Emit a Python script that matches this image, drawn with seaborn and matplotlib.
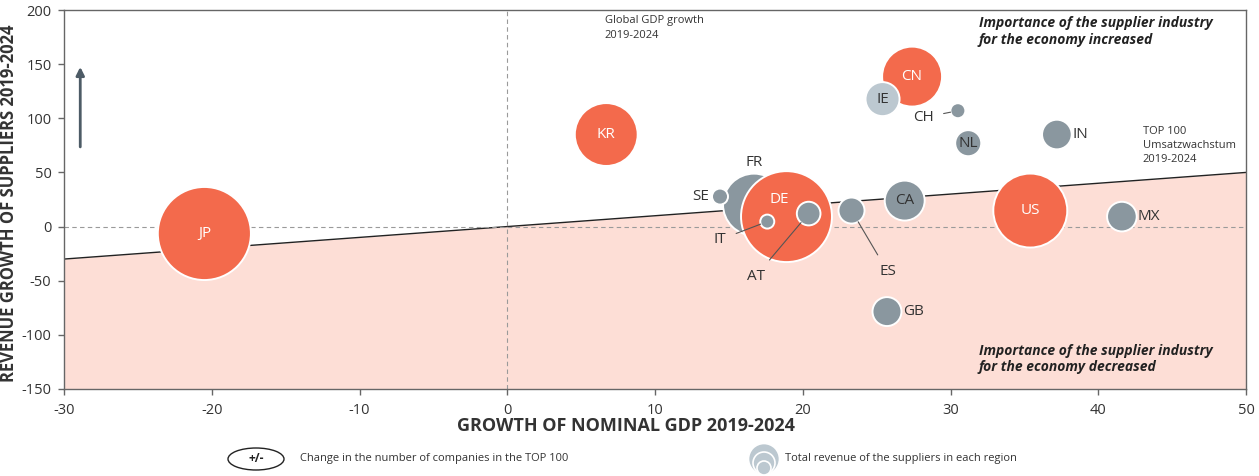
import numpy as np
import pandas as pd
import matplotlib
matplotlib.use("Agg")
import matplotlib.pyplot as plt
from matplotlib.patches import Ellipse
import seaborn as sns

# values
countries = ["JP", "KR", "CN", "IE", "CH", "NL", "IN", "FR", "SE", "DE",
             "IT", "AT", "ES", "CA", "US", "MX", "GB"]
gdp_growth = [-20.5, 6.7, 27.4, 25.4, 30.5, 31.2, 37.2, 16.7, 14.4, 18.9,
              17.6, 20.4, 23.3, 26.9, 35.4, 41.6, 25.7]
revenue_growth = [-6.4, 85, 138.5, 117.7, 107, 77, 85, 20.3, 27.7, 9.2,
                  4.6, 12, 14.8, 24, 14.8, 9.2, -78.5]
supplier_revenue = [217, 99, 90, 29, 5.6, 17, 22, 96, 6.4, 207,
                    4.9, 14, 17, 40, 137, 22, 21]
group = ["orange", "orange", "orange", "light", "gray", "gray", "gray", "gray", "gray", "orange",
         "gray", "gray", "gray", "gray", "orange", "gray", "gray"]

# TOP 100 revenue growth reference line (end points)
top100_x = [-30, 50]
top100_y = [-30, 50]

x_ticks = [-30, -20, -10, 0, 10, 20, 30, 40, 50]
y_ticks = [-150, -100, -50, 0, 50, 100, 150, 200]

ORANGE = "#F36A4C"
GRAY = "#8A979F"
LIGHT = "#BCC8D0"
PINK = "#FDDED6"
DARK = "#333333"

df = pd.DataFrame({"country": countries, "gdp": gdp_growth, "rev": revenue_growth,
                   "size": supplier_revenue, "group": group})

sns.set_theme(style="white")
plt.rcParams["font.family"] = ["Open Sans", "DejaVu Sans"]
plt.rcParams["axes.unicode_minus"] = False

fig = plt.figure(figsize=(12.59, 4.76), dpi=100)
ax = fig.add_axes([64 / 1259, 1 - 389 / 476, 1182 / 1259, 379 / 476])

ax.fill_between(top100_x, top100_y, -150, color=PINK, lw=0, zorder=0)
sns.lineplot(x=top100_x, y=top100_y, color="#222222", lw=1.0, ax=ax, zorder=1)
ax.axhline(0, color="#9a9a9a", lw=0.8, ls=(0, (4, 3)), zorder=1)
ax.axvline(0, color="#9a9a9a", lw=0.8, ls=(0, (4, 3)), zorder=1)

max_rev = max(supplier_revenue)
sns.scatterplot(data=df, x="gdp", y="rev", size="size", sizes=(0, max_rev * 20.7),
                size_norm=(0, max_rev), hue="group",
                palette={"orange": ORANGE, "gray": GRAY, "light": LIGHT},
                edgecolor="white", linewidth=1.4, legend=False, ax=ax, zorder=3)

# labels: (dx, dy) in points, colour, leader line
label_pos = {
    "JP": (0, 0, "white", False), "KR": (0, 0, "white", False),
    "CN": (0, 0, "white", False), "US": (0, 0, "white", False),
    "DE": (-5, 12, "white", False), "IE": (0, 0, DARK, False),
    "NL": (0, 0, DARK, False), "CA": (0, 0, DARK, False),
    "CH": (-25, -5, DARK, True), "IN": (17, 0, DARK, False),
    "FR": (0, 30, DARK, False), "SE": (-14, 0, DARK, False),
    "IT": (-34, -13, DARK, True), "AT": (-38, -45, DARK, True),
    "ES": (26, -44, DARK, True), "GB": (19, 0, DARK, False),
    "MX": (19, 0, DARK, False),
}
for c, x, y, s in zip(countries, gdp_growth, revenue_growth, supplier_revenue):
    dx, dy, col, leader = label_pos[c]
    r_pt = np.sqrt(s * 20.7) / 2
    props = None
    if leader:
        props = dict(arrowstyle="-", color="#555555", lw=0.8, shrinkA=5, shrinkB=r_pt)
    ax.annotate(c, xy=(x, y), xytext=(dx, dy), textcoords="offset points",
                ha="center", va="center", fontsize=11, color=col,
                arrowprops=props, zorder=4)

ax.annotate("", xy=(-28.9, 150), xytext=(-28.9, 71),
            arrowprops=dict(arrowstyle="-|>", color="#4d5b66", lw=2, mutation_scale=12))

ax.text(6.6, 195, "Global GDP growth\n2019-2024", fontsize=8, color=DARK,
        va="top", ha="left", linespacing=1.4)
ax.text(43.0, 93, "TOP 100\nUmsatzwachstum\n2019-2024", fontsize=8, color=DARK,
        va="top", ha="left", linespacing=1.4)
ax.text(31.9, 194.5, "Importance of the supplier industry\nfor the economy increased",
        fontsize=10, fontweight="bold", fontstyle="italic", color="#222222",
        va="top", ha="left", linespacing=1.25)
ax.text(31.9, -108, "Importance of the supplier industry\nfor the economy decreased",
        fontsize=10, fontweight="bold", fontstyle="italic", color="#222222",
        va="top", ha="left", linespacing=1.25)

ax.set_xlim(-30, 50)
ax.set_ylim(-150, 200)
ax.set_xticks(x_ticks)
ax.set_yticks(y_ticks)
ax.tick_params(axis="both", labelsize=10.5, labelcolor=DARK, color="#666666",
               length=4, width=1, direction="out", bottom=True, left=True)
ax.tick_params(axis="x", pad=6)
ax.tick_params(axis="y", pad=5)
for sp in ax.spines.values():
    sp.set_color("#666666")
    sp.set_linewidth(1)

ax.set_xlabel("GROWTH OF NOMINAL GDP 2019-2024", fontsize=13, fontweight="bold", color="#333333")
ax.set_ylabel("REVENUE GROWTH OF SUPPLIERS 2019-2024", fontsize=12, fontweight="bold", color="#333333")
ax.xaxis.set_label_coords(0.475, -0.075)
ax.yaxis.set_label_coords(-0.039, 0.49)

# bottom legend
W, H = 1259, 476
fig.add_artist(Ellipse((256 / W, 1 - 459 / H), 56 / W, 22 / H, transform=fig.transFigure,
                       facecolor="white", edgecolor="#222222", lw=1))
fig.text(256 / W, 1 - 459 / H, "+/-", ha="center", va="center", fontsize=8.5,
         fontweight="bold", color="#222222")
fig.text(300 / W, 1 - 459 / H, "Change in the number of companies in the TOP 100",
         ha="left", va="center", fontsize=8, color=DARK)
for r, cy in [(15.5, 459), (11, 463), (7, 468)]:
    fig.add_artist(Ellipse((764 / W, 1 - cy / H), 2 * r / W, 2 * r / H,
                           transform=fig.transFigure, facecolor=LIGHT,
                           edgecolor="white", lw=1.2))
fig.text(785 / W, 1 - 458 / H, "Total revenue of the suppliers in each region",
         ha="left", va="center", fontsize=8, color=DARK)

fig.savefig("out.png", dpi=100)
